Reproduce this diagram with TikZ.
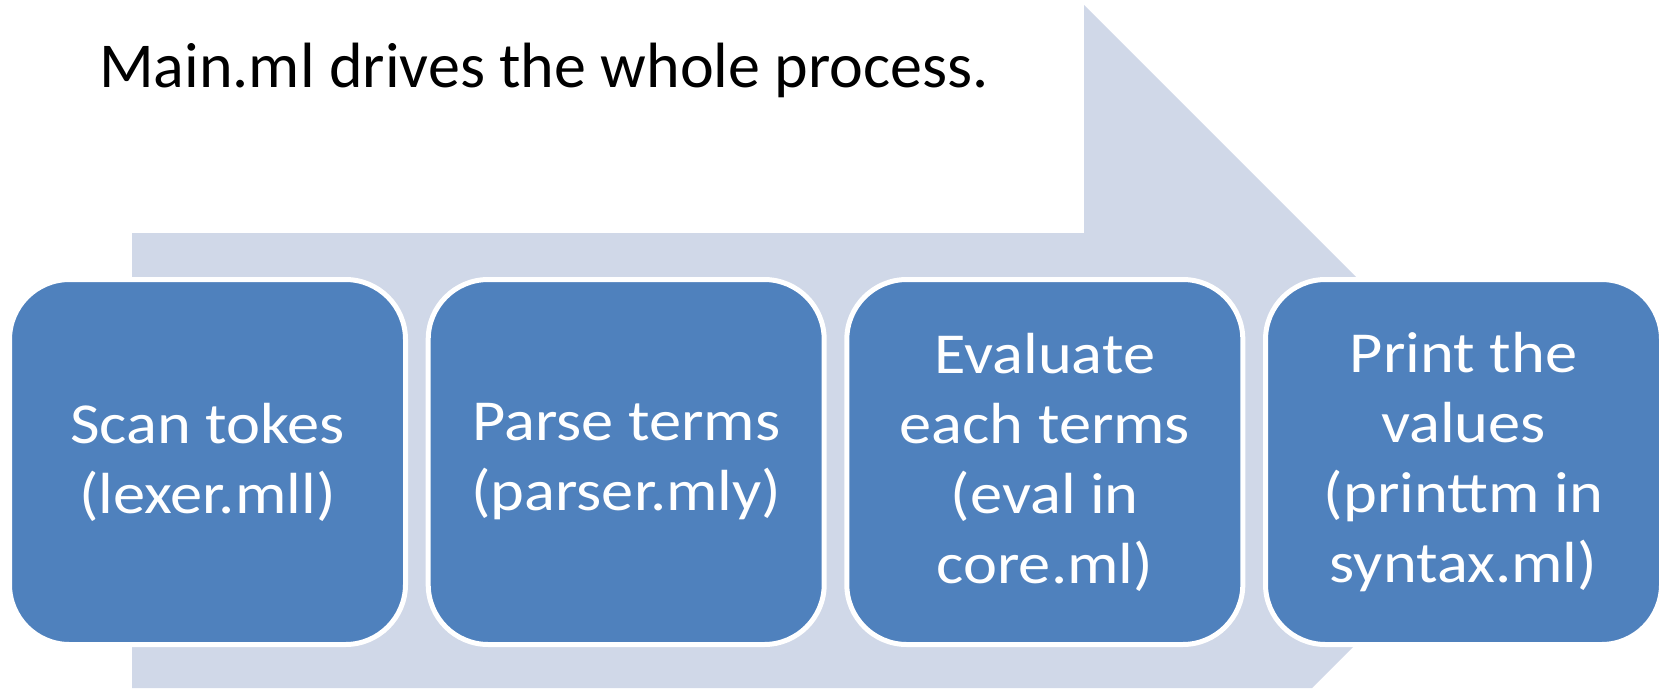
\documentclass[tikz,border=0pt]{standalone}
\usepackage{fontspec}
\setmainfont{Carlito}
\newfontfamily\stepfont[FakeStretch=1.11]{Carlito}
\definecolor{boxblue}{HTML}{4F81BD}
\definecolor{arrowgrey}{HTML}{D0D8E8}
\begin{document}
\begin{tikzpicture}[x=1pt,y=-1pt,
  stepbox/.style={draw=white, line width=5pt, fill=boxblue, rounded corners=60pt,
    minimum width=396pt, minimum height=365pt, inner sep=0pt, text=white,
    align=center, font=\stepfont\fontsize{58}{70}\selectfont},
  titletext/.style={anchor=base west, inner sep=0pt, font=\fontsize{64}{78}\selectfont}]
\useasboundingbox (0,0) rectangle (1661,688);
\fill[arrowgrey] (132,233) -- (1084,233) -- (1084,5) -- (1539.5,460.5) -- (1312,688) -- (132,688) -- cycle;
\node[titletext] (title) at (99,87) {Main.ml drives the whole process.};
\node[stepbox] (b1) at (207.5,462) {Scan tokes\\(lexer.mll)};
\node[stepbox] (b2) at (626.2,462) {Parse terms\\(parser.mly)};
\node[stepbox] (b3) at (1044.8,462) {Evaluate\\each terms\\(eval in\\core.ml)};
\node[stepbox] (b4) at (1463.5,462) {Print the\\values\\(printtm in\\syntax.ml)};
\end{tikzpicture}
\end{document}
